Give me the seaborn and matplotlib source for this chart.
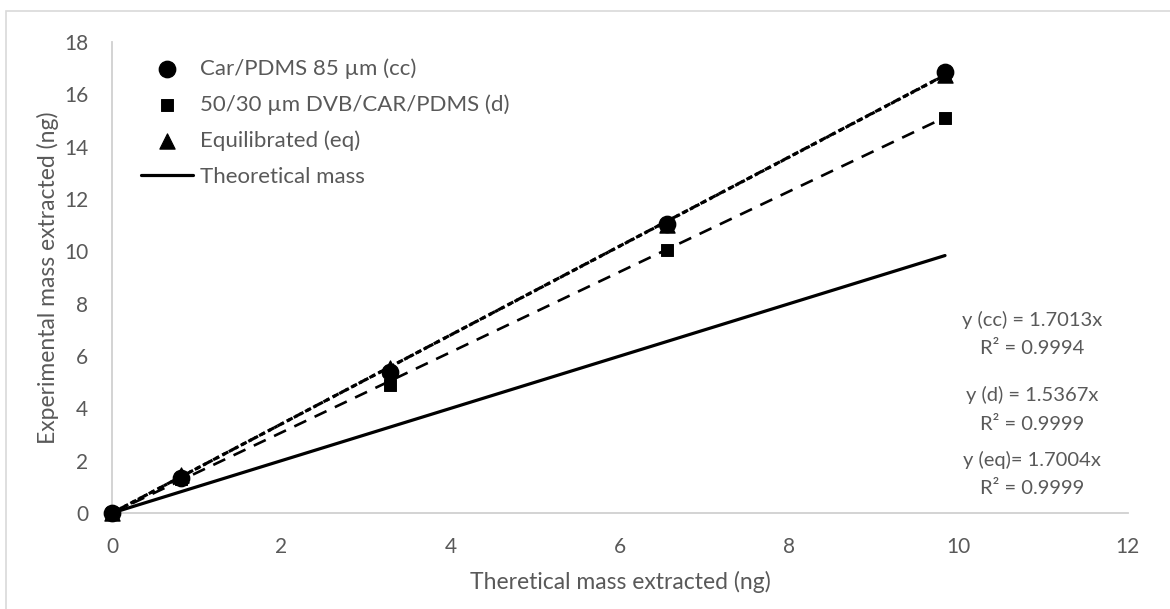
import matplotlib
matplotlib.use('Agg')
import matplotlib.pyplot as plt
import seaborn as sns
import pandas as pd
import numpy as np
from matplotlib.patches import Rectangle

# values
theoretical = [0, 0.82, 3.28, 6.56, 9.84]
mass_cc = [0, 1.35, 5.4, 11.05, 16.85]
mass_d = [0, 1.3, 4.9, 10.05, 15.1]
mass_eq = [0, 1.45, 5.55, 11.0, 16.75]

labels = ['Car/PDMS 85 µm (cc)', '50/30 µm DVB/CAR/PDMS (d)', 'Equilibrated (eq)']
slopes = [1.7013, 1.5367, 1.7004]
r2 = ['0.9994', '0.9999', '0.9999']
short = ['cc', 'd', 'eq']

df = pd.DataFrame({'x': theoretical, 'cc': mass_cc, 'd': mass_d, 'eq': mass_eq})
df['fit_cc'] = slopes[0] * df['x']
df['fit_d'] = slopes[1] * df['x']
df['fit_eq'] = slopes[2] * df['x']

sns.set_style('white')
plt.rcParams['font.family'] = ['Lato', 'DejaVu Sans']
grey = '#595959'

fig = plt.figure(figsize=(11.7, 6.09), dpi=100)
ax = fig.add_axes([0.0957, 0.1576, 0.8683, 0.7734])

# trendlines (y = slope * x)
sns.lineplot(data=df, x='x', y='fit_d', ax=ax, color='black', lw=1.9,
             label='_nolegend_').lines[-1].set_dashes((5, 3.5))
sns.lineplot(data=df, x='x', y='fit_cc', ax=ax, color='black', lw=2.2,
             label='_nolegend_').lines[-1].set_dashes((2.2, 1.2))
sns.lineplot(data=df, x='x', y='fit_eq', ax=ax, color='black', lw=2.2,
             label='_nolegend_').lines[-1].set_dashes((1.2, 1.2))

# measured points
sns.scatterplot(data=df, x='x', y='cc', ax=ax, color='black', marker='o', s=140,
                edgecolor='black', label=labels[0], zorder=4)
sns.scatterplot(data=df, x='x', y='d', ax=ax, color='black', marker='s', s=70,
                edgecolor='black', label=labels[1], zorder=4)
sns.scatterplot(data=df, x='x', y='eq', ax=ax, color='black', marker='^', s=120,
                edgecolor='black', label=labels[2], zorder=5)

# theoretical mass (y = x)
sns.lineplot(data=df, x='x', y='x', ax=ax, color='black', lw=2.3,
             label='Theoretical mass')

ax.set_xlim(0, 12)
ax.set_ylim(0, 18)
ax.set_xticks(np.arange(0, 13, 2))
ax.set_yticks(np.arange(0, 19, 2))
ax.tick_params(length=0, labelsize=15, colors=grey, pad=17)
for s in ['top', 'right']:
    ax.spines[s].set_visible(False)
for s in ['left', 'bottom']:
    ax.spines[s].set_color('#D0D0D0')
    ax.spines[s].set_linewidth(1.3)
for c in ax.collections:
    c.set_clip_on(False)

ax.set_xlabel('Theretical mass extracted (ng)', fontsize=16.5, color=grey, labelpad=10)
ax.set_ylabel('Experimental mass extracted (ng)', fontsize=16.5, color=grey, labelpad=4)

leg = ax.legend(loc='upper left', bbox_to_anchor=(0.009, 1.008), frameon=False,
                fontsize=16, labelspacing=0.7, handlelength=2.35,
                handletextpad=0.3, borderpad=0.4)
for t in leg.get_texts():
    t.set_color(grey)

# trendline equations
y_pos = [[320, 349], [395, 425], [460, 489]]
for i in range(3):
    pad = ' ' if short[i] != 'eq' else ''
    eq_txt = f'y ({short[i]}){pad}= {slopes[i]:.4f}x'
    fig.text(1032 / 1170, 1 - y_pos[i][0] / 609, eq_txt, ha='center', va='center',
             fontsize=14.5, color=grey)
    fig.text(1032 / 1170, 1 - y_pos[i][1] / 609, f'R² = {r2[i]}', ha='center',
             va='center', fontsize=14.5, color=grey)

# chart border
fig.patches.append(Rectangle((6 / 1170, -0.05), 1.1, 1 - 11 / 609 + 0.05,
                             transform=fig.transFigure, fill=False,
                             edgecolor='#D9D9D9', lw=1.2))

fig.savefig('out.png', dpi=100)
